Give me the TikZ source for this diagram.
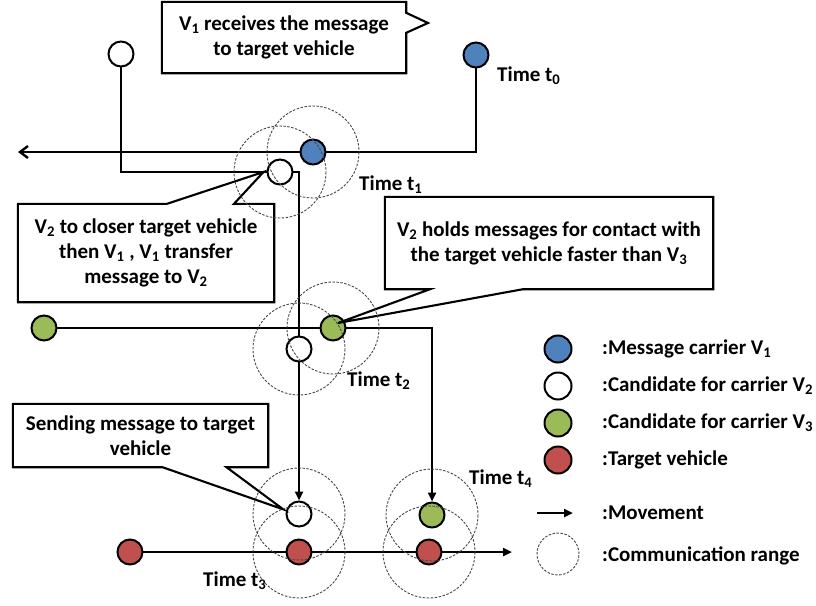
\documentclass[tikz,border=0pt]{standalone}
\usepackage{fontspec}
\setmainfont{Carlito}
\definecolor{veh_blue}{RGB}{79, 129, 189}
\definecolor{veh_green}{RGB}{155, 187, 89}
\definecolor{veh_red}{RGB}{192, 80, 77}
\definecolor{range_gray}{RGB}{70, 70, 70}
\usetikzlibrary{arrows.meta}
\pgfdeclarelayer{background}
\pgfsetlayers{background,main}

\begin{document}
\begin{tikzpicture}[x=1pt, y=-1pt,
    every node/.style={font=\fontsize{21}{25}\selectfont\bfseries, inner sep=0pt},
    car/.style={circle, draw, line width=2pt, minimum size=25pt},
    track/.style={line width=2.4pt},
    move/.style={track, -{Triangle[length=9pt, width=8pt]}},
    commrange/.style={draw=range_gray, line width=0.9pt, dash pattern=on 2.5pt off 1.5pt},
    bubble/.style={line width=2.1pt, line join=miter},
    note/.style={align=center}]
  \useasboundingbox (0,0) rectangle (816,605);

  % Vehicles
  \node[car, fill=white] (v2a) at (121,54) {};
  \node[car, fill=veh_blue] (v1a) at (476,55) {};
  \node[car, fill=veh_blue] (v1b) at (313,152) {};
  \node[car, fill=white] (v2b) at (280,172) {};
  \node[car, fill=veh_green] (v3a) at (44,328) {};
  \node[car, fill=veh_green] (v3b) at (333,328) {};
  \node[car, fill=white] (v2c) at (299,349) {};
  \node[car, fill=white] (v2d) at (299,514) {};
  \node[car, fill=veh_green] (v3c) at (432,515) {};
  \node[car, fill=veh_red] (tga) at (130,552) {};
  \node[car, fill=veh_red] (tgb) at (299,552) {};
  \node[car, fill=veh_red] (tgc) at (429,552) {};
  \coordinate (v1end) at (18,152);
  \coordinate (tgend) at (512,552);

  % Tracks, under the vehicles
  \begin{pgfonlayer}{background}
    \draw[track, -{Straight Barb[length=8pt, width=12pt]}]
      (v1a.center) |- (v1b.center) -- (v1end);
    \draw[move] (v2a.center) |- (v2b.center) -| (v2d.north);
    \draw[move] (v3a.center) -- (v3b.center) -| (v3c.north);
    \draw[move] (tga.center) -- (tgb.center) -- (tgc.center) -- (tgend);
  \end{pgfonlayer}

  % Time stamps
  \node[anchor=west] (t0) at (497,76) {Time t\textsubscript{0}};
  \node[anchor=west] (t1) at (359,185) {Time t\textsubscript{1}};
  \node[anchor=west] (t2) at (347,381) {Time t\textsubscript{2}};
  \node[anchor=west] (t3) at (203,581) {Time t\textsubscript{3}};
  \node[anchor=west] (t4) at (469,479) {Time t\textsubscript{4}};

  % Callouts
  \node[note, minimum width=244pt, minimum height=71pt] (c1) at (284,37.5)
    {V\textsubscript{1} receives the message\\to target vehicle};
  \coordinate (c1tip) at (428,23);
  \draw[bubble] (c1.north west) -- (c1.north east) -- ([yshift=-11pt]c1.north east)
    -- (c1tip) -- ([yshift=-31pt]c1.north east) -- (c1.south east)
    -- (c1.south west) -- cycle;

  \node[note, minimum width=256pt, minimum height=98pt] (c2) at (146,253)
    {V\textsubscript{2} to closer target vehicle\\then V\textsubscript{1} , V\textsubscript{1} transfer\\message to V\textsubscript{2}};
  \draw[bubble] (c2.north west) -- ([xshift=21pt]c2.north) -- ([xshift=-3pt]v2b.west)
    -- ([xshift=88pt]c2.north) -- (c2.north east) -- (c2.south east)
    -- (c2.south west) -- cycle;

  \node[note, minimum width=328pt, minimum height=92pt] (c3) at (549,243)
    {V\textsubscript{2} holds messages for contact with\\the target vehicle faster than V\textsubscript{3}};
  \draw[bubble] (c3.north west) -- (c3.north east) -- (c3.south east)
    -- ([xshift=-26pt]c3.south) -- ([shift={(5pt,5pt)}]v3b.center)
    -- ([xshift=-119pt]c3.south) -- (c3.south west) -- cycle;

  \node[note, minimum width=255pt, minimum height=63pt] (c4) at (140.5,435.5)
    {Sending message to target\\vehicle};
  \draw[bubble] (c4.north west) -- (c4.north east) -- (c4.south east)
    -- ([xshift=86pt]c4.south) -- ([xshift=-3pt]v2d.160)
    -- ([xshift=22pt]c4.south) -- (c4.south west) -- cycle;

  % Communication ranges
  \foreach \n in {v1b, v2b, v3b, v2c, v2d, tgb, v3c, tgc}
    \draw[commrange] (\n.center) circle[radius=46];

  % Legend
  \foreach \col/\txt [count=\i] in {veh_blue/Message carrier V\textsubscript{1},
      white/Candidate for carrier V\textsubscript{2},
      veh_green/Candidate for carrier V\textsubscript{3},
      veh_red/Target vehicle} {
    \node[car, fill=\col, minimum size=27pt] (key\i) at (558,312+37*\i) {};
    \node[anchor=west] (keytxt\i) at (602,312+37*\i) {:\txt};
  }
  \coordinate (keymove) at (537,513);
  \coordinate (keymoveend) at (573,513);
  \draw[move] (keymove) -- (keymoveend);
  \node[anchor=west] (keymovetxt) at (602,513) {:Movement};
  \node[circle, commrange, minimum size=42pt] (keyrange) at (558,554) {};
  \node[anchor=west] (keyrangetxt) at (602,556) {:Communication range};
\end{tikzpicture}
\end{document}
